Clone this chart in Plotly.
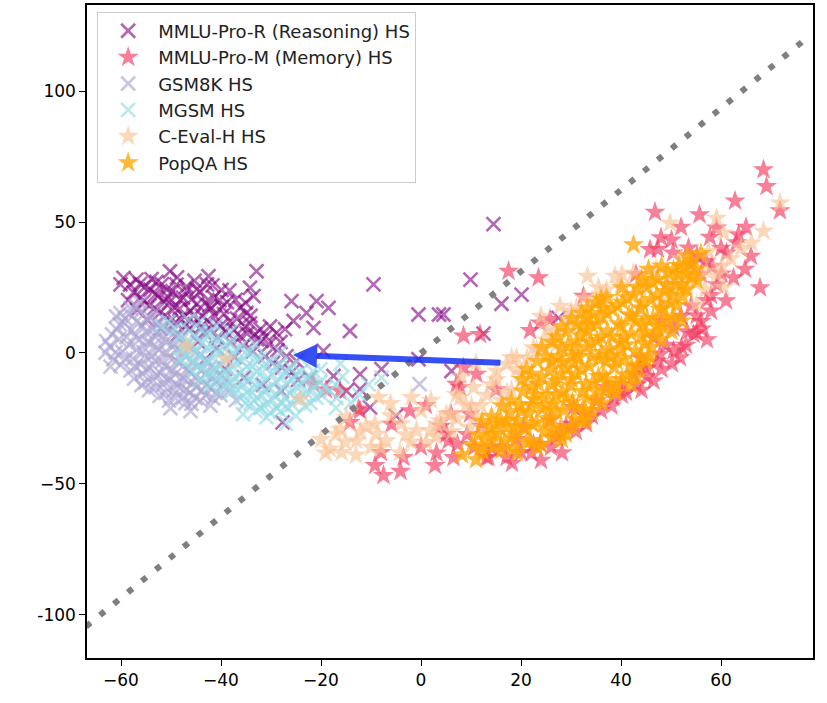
import plotly.graph_objects as go

# ---------------- data ----------------
series_names = ["MMLU-Pro-R (Reasoning) HS", "MMLU-Pro-M (Memory) HS", "GSM8K HS",
                "MGSM HS", "C-Eval-H HS", "PopQA HS"]

mmlu_r_pts = [
    (-59.5, 28.7), (-56.9, 28), (-50.2, 31.2), (-42.5, 29.3), (-32.9, 31.2), (-34.2, 24.9),
    (-33.5, 21.7), (-25.9, 19.8), (-20.9, 19.8), (-18.5, 17.2), (-22.9, 15.3), (-25.5, 12.2),
    (-21.5, 9.6), (-14.2, 8.4), (-9.5, 26.2), (-34.9, 15.3), (-28.9, 7.7), (-31.9, 4.6),
    (-19.5, 0.8), (-22.2, -9.4), (-17.5, -8.8), (-14.9, -14.5), (-27.7, -26.5), (-12.2, -8.1),
    (-10.2, -20.8), (14.5, 49.2), (9.9, 28), (16.1, 18.8), (-0.5, 14.7), (3.6, 14.7),
    (12.5, 7.4), (6.1, -6.9), (-7.9, -6.2), (-12.2, -13.8), (-5, -24), (-0.5, -2.4),
    (20.1, 22.3), (27.5, 13.4), (4.5, 14.7),
    (-57.5, 23.1), (-56.2, 26.4), (-55.4, 19.8), (-54.1, 24.2), (-53.3, 17.1), (-52.6, 21.9),
    (-51.8, 26.3), (-51.2, 14.3), (-50.4, 19.2), (-49.7, 23.6), (-49.1, 11.8), (-48.3, 16.9),
    (-47.6, 21.1), (-46.9, 25.4), (-46.2, 9.6), (-45.5, 14.2), (-44.8, 18.7), (-44.1, 23.3),
    (-43.4, 7.8), (-42.7, 12.4), (-42.1, 16.8), (-41.4, 21.2), (-40.7, 5.9), (-40.1, 10.3),
    (-39.4, 14.9), (-38.8, 19.4), (-38.1, 4.1), (-37.4, 8.7), (-36.8, 13.1), (-36.2, 17.2),
    (-35.5, 2.8), (-34.8, 7.4), (-34.2, 11.3), (-33.6, 0.6), (-32.8, 5.2), (-32.1, 9.1),
    (-31.2, -1.4), (-30.4, 3.3), (-29.6, -3.8), (-28.7, 1.1), (-27.8, -5.6), (-26.9, -1.2),
    (-25.8, -7.3), (-24.9, -3.1), (-54.7, 12.6), (-52.1, 9.4), (-48.6, 7.2), (-44.6, 4.3),
    (-40.9, 1.8), (-37.3, -1.6), (-53.9, 28.2), (-48.8, 28.9), (-45.3, 27.6), (-41.7, 25.8),
    (-38.3, 23.9), (-43.1, -2.4), (-39.2, -6.1), (-35.4, -9.3), (-31.6, -12.2), (-27.9, -14.6),
    (-24.6, -10.3), (-58.6, 20.2), (-56.8, 16.4), (-47.3, 13.8), (-43.9, 10.1), (-39.8, 17.6),
    (-50.6, 21.3), (-45.9, 20.4), (-42.3, 18.1),
    (-56.1, 21.2), (-55.2, 25.3), (-54.3, 18.1), (-53.1, 22.4), (-52.9, 27.1), (-52.2, 15.3),
    (-51.3, 19.4), (-50.8, 24.2), (-50.1, 12.3), (-49.2, 17.2), (-48.9, 26.1), (-48.1, 20.3),
    (-47.2, 10.4), (-46.8, 23.8), (-46.1, 16.2), (-45.2, 11.1), (-44.9, 24.3), (-43.8, 14.2),
    (-43.2, 19.1), (-42.8, 26.2), (-42.1, 9.1), (-41.2, 14.1), (-40.3, 20.2), (-39.9, 24.1),
    (-39.1, 8.2), (-38.2, 12.1), (-37.1, 20.3), (-36.1, 6.2), (-35.2, 10.1), (-35.1, 19.2),
    (-34.1, 14.2), (-33.2, 7.1), (-31.1, 6.3), (-30.2, 10.1), (-28.1, 4.2), (-27.2, 9.1),
    (-60.1, 26.2), (-58.2, 26.1), (-48.2, 13.1), (-44.1, 9.2),
]

mmlu_m_pts = [
    (68.5, 70), (69.1, 63.6), (62.8, 58.1), (46.8, 53.8), (55.7, 52.8), (71.8, 54.3),
    (59.1, 47.7), (63.5, 45.2), (67.8, 24.9), (45.8, 39.5), (47.4, 39.6), (50.4, 38.2),
    (53.5, 40.1), (61.1, 38.2), (64.8, 32), (62.5, 28.7), (57, 35), (56, 30), (58, 22),
    (60, 40), (66, 37), (65, 48), (52, 48), (43, 30), (48, 44), (61, 20), (54, 34),
    (17.5, 31.2), (23.5, 28.7), (8.5, 6.5), (11.8, 7.1), (23.8, 11.5), (25.8, 12.8),
    (32.5, 21.7), (21.8, 8.6),
    (55.1, 7.7), (50.5, 0.8), (46.5, -10.7), (43.8, -5.6), (50.5, 9.6), (54.5, 7.1),
    (46.5, 5.8), (47.8, -0.5), (51.8, -1.8), (42.5, -8.1), (45.1, -5.6), (52, 14), (54, 18),
    (49, 3), (44, -2), (48, 12), (53, 3), (56, 12), (58, 16),
    (38.5, -17), (32.5, -23.3), (27.8, -31), (23.8, -34.8), (17.1, -39.9), (13.1, -39.9),
    (6.5, -39.9), (37.1, -13.2), (35.1, -18.3), (30.5, -20.8), (25.8, -25.9), (27.1, -32.2),
    (20.5, -28.4), (22.5, -34.8), (16, -36), (10.7, -36), (7.3, -34.8), (40, -12), (33, -27),
    (29, -28), (19, -33), (26, -36), (13.5, -39.9), (31, -30), (36, -22), (41, -15),
    (20, -38), (24, -41),
    (7.8, -13.2), (11.1, -8.1), (5.1, -31), (7.1, -11.9), (6, -23.3), (9.8, -23.3),
    (8.5, -5.6), (5.5, -33.5), (12, -28), (4, -28), (15, -14), (1, -20),
    (-16.2, -14.5), (-12.5, -21.4), (-3.5, -39.9), (2.8, -43), (-7.5, -46.8), (-9.2, -43),
    (-2.2, -22.1), (-5.9, -27.2), (-21.5, -11.9), (-14.2, -26.5), (-12.2, -22), (0, -36),
    (-8, -38), (-19, -14),
    (40.2, -16.1), (43.1, -12.2), (45.2, -9.1), (48.1, -6.2), (50.2, -4.1), (52.1, 2.2),
    (53.2, 8.1), (56.1, 9.2), (57.2, 5.1), (55.1, 14.2), (57.1, 20.1), (59.2, 26.1),
    (60.1, 30.2), (58.2, 33.1), (38.1, -20.2), (34.2, -24.1), (30.1, -27.2), (28.2, -38.1),
    (22.1, -38.2), (18.2, -42.1), (14.1, -36.2), (9.2, -31.1), (3.1, -38.2), (-4.1, -45.2),
    (63.1, 42.1), (57.8, 44.2), (50.1, 43.2), (55.2, 37.1), (44.1, -14.2), (47.2, -3.1),
]

gsm8k_pts = [
    (-62.3, 2.5), (-61.8, 7.1), (-61.5, -2.4), (-60.2, 10.8), (-60.4, 5.3), (-59.7, 0.4),
    (-60.1, -4.6), (-59.2, 13.1), (-58.3, 14.9), (-57.9, 8.6), (-58.4, 3.1), (-57.6, -2.2),
    (-58.1, -6.7), (-57.4, -9.8), (-56.2, 15.6), (-55.8, 10.4), (-56.3, 5.2), (-55.6, 0.3),
    (-56.1, -4.4), (-55.7, -8.1), (-55.9, -12.3), (-54.1, 13.3), (-53.7, 8.9), (-54.3, 4.1),
    (-53.8, -1.2), (-54.2, -5.9), (-53.6, -10.4), (-54.4, -14.2), (-52.2, 11.4), (-51.7, 6.2),
    (-52.4, 1.1), (-51.8, -3.3), (-52.1, -7.8), (-51.6, -12.1), (-52.3, -16.4), (-50.1, 8.3),
    (-49.6, 3.4), (-50.3, -1.8), (-49.8, -6.3), (-50.2, -10.2), (-49.5, -14.4), (-50.4, -18.2),
    (-48.2, 5.1), (-47.7, 0.2), (-48.3, -4.1), (-47.8, -9.2), (-48.1, -13.3), (-47.6, -17.1),
    (-46.1, 2.3), (-45.8, -3.2), (-46.3, -7.1), (-45.7, -11.3), (-46.2, -15.2), (-45.9, -19.4),
    (-44.2, -1.1), (-43.7, -6.2), (-44.3, -10.3), (-43.8, -14.1), (-44.1, -18.2), (-42.1, -5.3),
    (-41.8, -9.4), (-42.2, -13.2), (-41.6, -17.3), (-40.2, -8.1), (-39.7, -12.4), (-40.1, -16.1),
    (-38.3, -14.2), (-63, 4.5), (-61, 14), (-57, 18), (-53, 16), (-0.3, -11.9), (-37, -18),
    (-49, 11),
    (-61.1, 0.2), (-60.9, 9.1), (-59.1, -2.2), (-58.9, 6.1), (-59.2, 11.2), (-57.1, -5.1),
    (-56.9, 1.2), (-57.2, 6.3), (-56.8, 12.1), (-55.1, -11.2), (-54.9, -6.1), (-55.2, -1.1),
    (-54.8, 4.2), (-55.1, 8.1), (-54.9, 13.2), (-53.1, -13.1), (-52.9, -8.2), (-53.2, -3.1),
    (-52.8, 2.2), (-53.1, 6.1), (-52.9, 11.2), (-51.1, -15.2), (-50.9, -10.1), (-51.2, -5.2),
    (-50.8, 0.1), (-51.1, 4.2), (-50.9, 9.1), (-49.1, -17.2), (-48.9, -12.1), (-49.2, -8.2),
    (-48.8, -3.1), (-49.1, 1.2), (-48.9, 6.1), (-47.1, -19.2), (-46.9, -14.1), (-47.2, -10.2),
    (-46.8, -6.1), (-47.1, -1.2), (-46.9, 3.1), (-45.1, -17.2), (-44.9, -13.1), (-45.2, -9.2),
    (-44.8, -5.1), (-45.1, 0.2), (-43.1, -16.2), (-42.9, -12.1), (-43.2, -8.2), (-42.8, -3.1),
    (-41.1, -15.2), (-40.9, -11.1), (-41.2, -6.2), (-39.1, -10.1), (-62.1, -5.2), (-63.1, 0.1),
    (-60.1, 15.2), (-58.1, 17.1), (-56.1, 19.2), (-50.1, -21.1), (-46.1, -22.2), (-42.1, -20.1),
]

mgsm_pts = [
    (-48.3, 6.2), (-47.7, 1.8), (-48.1, -2.4), (-46.2, 8.3), (-45.8, 3.1), (-46.4, -2.8),
    (-45.6, -7.2), (-44.1, 9.2), (-43.8, 4.1), (-44.3, -0.9), (-43.7, -5.8), (-44.2, -10.3),
    (-42.2, 7.1), (-41.7, 2.3), (-42.3, -3.2), (-41.8, -8.1), (-42.1, -12.4), (-40.1, 5.3),
    (-39.8, 0.2), (-40.3, -4.9), (-39.6, -10.1), (-40.2, -14.2), (-38.2, 3.9), (-37.7, -1.1),
    (-38.3, -6.2), (-37.8, -11.3), (-38.1, -15.1), (-36.2, 2.1), (-35.8, -3.2), (-36.3, -8.1),
    (-35.7, -12.9), (-36.1, -17.2), (-34.2, 0.3), (-33.7, -5.1), (-34.3, -10.2), (-33.8, -15.1),
    (-34.1, -19.2), (-32.2, -2.1), (-31.7, -7.3), (-32.3, -12.1), (-31.8, -16.2), (-32.1, -20.9),
    (-30.2, -3.2), (-29.8, -8.1), (-30.3, -13.2), (-29.7, -18.1), (-30.1, -22.8), (-28.2, -4.1),
    (-27.7, -9.2), (-28.3, -14.1), (-27.8, -19.2), (-28.1, -22.3), (-26.2, -5.2), (-25.8, -10.1),
    (-26.3, -15.2), (-25.7, -19.8), (-24.1, -7.2), (-23.8, -12.1), (-24.3, -17.1), (-22.2, -9.1),
    (-21.7, -14.2), (-22.1, -19.1), (-20.2, -11.2), (-19.8, -16.1),
    (-35.6, -23.4), (-32, -21), (-30.9, -24.6), (-21.6, -6.9), (-15.7, -9.1), (-18.2, -14.5),
    (-7.9, -9.4), (-12.3, -16), (-14, -19), (-17, -21), (-52, 10), (-50.5, 12), (-46.5, 12.5),
    (-41, 10.5), (-25, -24), (-10.5, -12), (-27, -27),
    (-47.1, 4.1), (-46.9, -1.2), (-45.1, 6.2), (-44.9, 1.1), (-45.2, -4.1), (-43.1, 7.2),
    (-42.9, 2.1), (-43.2, -3.2), (-42.8, -8.1), (-41.1, 5.2), (-40.9, 0.1), (-41.2, -5.2),
    (-40.8, -10.1), (-39.1, 3.2), (-38.9, -2.1), (-39.2, -7.2), (-38.8, -12.1), (-37.1, 1.2),
    (-36.9, -4.1), (-37.2, -9.2), (-36.8, -14.1), (-35.1, 0.2), (-34.9, -5.1), (-35.2, -10.2),
    (-34.8, -15.1), (-35.1, -19.2), (-33.1, -2.2), (-32.9, -7.1), (-33.2, -12.2), (-32.8, -17.1),
    (-33.1, -22.2), (-31.1, -4.1), (-30.9, -10.2), (-31.2, -14.1), (-30.8, -19.2), (-29.1, -5.2),
    (-28.9, -11.1), (-29.2, -16.2), (-28.8, -21.1), (-27.1, -7.2), (-26.9, -12.1), (-27.2, -17.2),
    (-26.8, -21.1), (-25.1, -8.2), (-24.9, -13.1), (-25.2, -17.2), (-23.1, -10.1), (-22.9, -15.2),
    (-23.2, -20.1), (-21.1, -12.2), (-20.9, -17.1), (-19.1, -13.2), (-17.1, -12.1), (-16.9, -17.2),
    (-49.1, 9.2), (-44.1, 12.1), (-38.1, 8.2), (-33.1, 3.1), (-28.1, 0.2), (-24.1, -2.1),
    (-20.1, -6.2), (-16.1, -4.1),
]

ceval_pts = [
    (-15.9, -38), (-12.9, -33.5), (-8.9, -31), (-7, -33.5), (-0.9, -29.7), (1.8, -29.7),
    (-1.9, -17), (-8.5, -17), (-6.1, -19.3), (3.8, -25.9), (5.8, -23.3), (7.8, -17),
    (10.5, -13.2), (17.1, -4.3), (18.1, -1.8), (-18.2, -36.7), (-14.9, -24.6), (-46.9, 2.7),
    (-38.9, -2.4), (-24.2, -17.6), (33.3, 29.3), (35.5, 24.9), (38.8, 29.3), (42.5, 30.6),
    (49.8, 49.6), (59.1, 51.5), (60.5, 45.8), (57.5, 38.8), (66.1, 42), (68.5, 46.5),
    (71.8, 57.3), (59.1, 29.9), (60.5, 25), (56.8, 24.2), (27.8, 17.9), (32.7, 20.8),
    (29.8, 10.9), (22.5, 2), (19.1, -1.8), (15.1, -6.9), (7.1, -15.8), (5.1, -23.3),
    (9.8, -28.4), (45.1, 27.4), (50.5, 23.6), (53.1, 24.9), (55.1, 18.5), (43.8, 17.3),
    (-11, -28), (-4, -27), (-2, -34), (3, -32), (12, -20), (14, -12), (20, -8), (25, 5),
    (26, -4), (13, -30), (11, -4), (16, -18), (24, 14), (36, 22), (40, 26), (47, 32),
    (52, 36), (62, 36), (64, 40), (48, 20), (-17, -31), (-10, -36), (-6, -24), (0, -22),
    (8, -9), (2, -18), (-13, -39), (21, -12), (27, 8), (30, 16), (9, -20), (-20, -33),
    (15.1, -10.2), (17.2, -15.1), (19.1, -6.2), (21.2, -2.1), (23.1, 1.2), (25.2, 9.1),
    (27.1, 3.2), (29.2, 13.1), (31.1, 17.2), (34.2, 20.1), (37.1, 24.2), (40.2, 30.1),
    (44.1, 24.2), (46.2, 30.1), (49.1, 26.2), (53.2, 30.1), (57.1, 31.2), (60.2, 33.1),
    (55.1, 29.2), (50.2, 28.1), (10.1, -20.2), (7.2, -25.1), (3.1, -27.2), (-3.1, -31.2),
    (-9.2, -27.1), (-12.1, -30.2), (-15.1, -34.1), (-19.1, -38.2), (-16.2, -29.1), (-8.1, -36.2),
    (-4.2, -38.1), (1.1, -34.2), (6.2, -30.1), (11.1, -24.2), (13.2, -16.1), (18.1, -14.2),
]

popqa_pts = [
    (10.2, -35), (11.5, -31.5), (12.4, -37.8), (13.1, -33), (13.8, -28.6), (14.6, -35.7),
    (15.3, -30.8), (15.9, -25.5), (16.7, -33.9), (17.2, -28.2), (17.8, -22.9), (18.4, -36.4),
    (18.9, -31), (19.3, -25.8), (19.8, -19.7), (20.4, -14.6), (20.9, -28.9), (21.5, -23.1),
    (21.9, -33.4), (22.6, -17.8), (23.1, -26.5), (23.5, -11.9), (24.2, -21.4), (24.6, -30.2),
    (25.1, -15.9), (25.7, -6.8), (26.2, -25), (26.5, -19.5), (27, -10.7), (27.4, -1.8),
    (27.9, -28.7), (28.3, -15), (28.6, -21.8), (29, -5.9), (29.4, 2.9), (29.9, -12.3),
    (30.3, -18.8), (30.7, -25.3), (31.1, -8.1), (31.5, -1.5), (31.9, 6.6), (32.3, -14.7),
    (32.8, -21.6), (33.1, 2.2), (33.6, -5), (34, 10.9), (34.4, -11.2), (34.9, -17.9),
    (35.2, 4.8), (35.7, -2.3), (36.1, 13.8), (36.5, -8.6), (36.9, -14.5), (37.3, 8.4),
    (37.8, 1.6), (38.2, 16.7), (38.6, -5.4), (39, -11.6), (39.5, 11.2), (39.9, 4.3),
    (40.3, 19.4), (40.7, -2.1), (41.2, -8.3), (41.6, 14.6), (42, 7.4), (42.5, 22.3),
    (42.9, 0.9), (43.3, -4.8), (43.8, 17.1), (44.2, 10.6), (44.7, 3.5), (45.1, 25.2),
    (45.6, -1.2), (46, 20.4), (46.4, 13.2), (46.9, 6.8), (47.3, 28.1), (47.8, 16.6),
    (48.2, 10), (48.7, 23.5), (49.3, 30.8), (49.8, 18.9), (50.4, 13.7), (51, 26.2),
    (51.6, 33.4), (52.3, 21.7), (53, 30), (54.1, 35.3), (55.2, 27.6),
    (42.5, 41.3), (40.1, 24.9), (52.8, 33.1), (50.5, 31.8), (56, 38), (8.2, -38.9),
    (11, -40.8), (45.5, 32), (36, 20.5), (24, -35), (29, -31), (33, -25.7),
    (30.5, -4), (33, -12), (35.5, -9), (38, -1), (40.5, 6), (43, 12), (27, -16), (25, -20),
    (22, -20), (19, -28), (36, 6), (39, -15), (42, -12), (45, 8), (31, 0), (28, -8),
    (34, 4), (37, -3), (40, 1), (44, -1),
    (12.1, -36.2), (14.2, -31.1), (16.1, -37.2), (17.1, -26.1), (19.2, -38.1), (20.1, -22.2),
    (21.1, -34.1), (22.2, -27.1), (23.1, -16.2), (23.2, -36.1), (24.1, -9.2), (25.2, -25.1),
    (26.1, -32.2), (26.2, -12.1), (27.1, -22.2), (28.1, -3.1), (28.2, -33.1), (29.1, -17.2),
    (30.1, -10.1), (30.2, -28.1), (31.1, 4.2), (31.2, -21.1), (32.1, -6.2), (32.2, -26.1),
    (33.1, -17.2), (33.2, 8.1), (34.1, -1.2), (34.2, -22.1), (35.1, -14.2), (35.2, 11.1),
    (36.1, 0.2), (36.2, -19.1), (37.1, -10.2), (37.2, 15.1), (38.1, 6.2), (38.2, -14.1),
    (39.1, -3.2), (39.2, 18.1), (40.1, 10.2), (40.2, -10.1), (41.1, 3.2), (41.2, 21.1),
    (42.1, -5.2), (42.2, 14.1), (43.1, -9.2), (43.2, 25.1), (44.1, 6.2), (44.2, 19.1),
    (45.1, -3.2), (45.2, 13.1), (46.1, 2.2), (46.2, 27.1), (47.1, 10.2), (47.2, 22.1),
    (48.1, 5.2), (48.2, 17.1), (49.1, 26.2), (49.2, 13.1), (50.1, 8.2), (50.2, 22.1),
    (51.1, 18.2), (51.2, 30.1), (52.1, 12.2), (52.2, 26.1), (53.1, 24.2), (54.1, 29.1),
    (55.1, 32.2), (53.2, 37.1), (48.1, 33.2), (44.1, 28.1), (26.1, -29.2), (18.1, -32.1),
    (15.2, -27.1),
    (20.2, -10.1), (21.1, -6.2), (22.1, -8.1), (23.2, -3.1), (24.1, 2.1), (25.1, -1.2),
    (26.2, 4.1), (27.1, 6.2), (28.1, 10.1), (29.2, 8.1), (30.1, 13.2), (31.2, 11.1),
    (32.1, 15.2), (33.2, 17.1), (34.1, 15.1), (35.1, 19.2), (36.2, 17.1), (37.1, 21.2),
    (30.2, -1.1), (26.1, -3.2), (22.2, -13.1), (18.1, -18.2), (16.2, -20.1), (14.1, -24.2),
    (12.2, -26.1), (33.1, 13.2), (28.2, 2.1), (32.2, 10.1),
]

diag_x = [-67, 77]
diag_y = [-104.5, 120]

arrow_tail = (16.2, -3.8)
arrow_tip = (-25.6, -0.8)

x_ticks = [-60, -40, -20, 0, 20, 40, 60]
x_ticktext = ["\u221260", "\u221240", "\u221220", "0", "20", "40", "60"]
y_ticks = [-100, -50, 0, 50, 100]
y_ticktext = ["-100", "\u221250", "0", "50", "100"]

# ---------------- figure ----------------
styles = [
    ("x", "rgba(128,0,128,0.6)", mmlu_r_pts),
    ("star", "rgba(242,58,95,0.65)", mmlu_m_pts),
    ("x", "rgba(172,165,210,0.65)", gsm8k_pts),
    ("x", "rgba(150,220,230,0.65)", mgsm_pts),
    ("star", "rgba(250,195,150,0.65)", ceval_pts),
    ("star", "rgba(255,165,0,0.78)", popqa_pts),
]

fig = go.Figure()
for name, (kind, color, pts) in zip(series_names, styles):
    xs = [p[0] for p in pts]
    ys = [p[1] for p in pts]
    if kind == "x":
        marker = dict(symbol="x-thin", size=14, color=color, line=dict(color=color, width=2.6))
    else:
        marker = dict(symbol="star", size=16, color=color, line=dict(width=0))
    fig.add_trace(go.Scatter(x=xs, y=ys, mode="markers", name=name, marker=marker))

fig.add_trace(go.Scatter(x=diag_x, y=diag_y, mode="lines", showlegend=False,
                         line=dict(color="#7f7f7f", width=6, dash="6px,12px")))

fig.add_annotation(x=arrow_tip[0], y=arrow_tip[1], ax=arrow_tail[0], ay=arrow_tail[1],
                   xref="x", yref="y", axref="x", ayref="y", text="", showarrow=True,
                   arrowhead=2, arrowsize=0.8, arrowwidth=6,
                   arrowcolor="rgba(20,50,245,0.85)", standoff=0)

axis_common = dict(showline=True, linecolor="black", linewidth=1.5, mirror=True,
                   ticks="outside", ticklen=6, tickwidth=1.3, tickcolor="black",
                   showgrid=False, zeroline=False,
                   tickfont=dict(family="DejaVu Sans", size=17, color="black"))

fig.update_layout(
    width=827, height=703,
    margin=dict(l=87, r=14, t=3, b=45),
    plot_bgcolor="white", paper_bgcolor="white",
    xaxis=dict(range=[-66.8, 78.4], tickvals=x_ticks, ticktext=x_ticktext, **axis_common),
    yaxis=dict(range=[-116.5, 132.9], tickvals=y_ticks, ticktext=y_ticktext, **axis_common),
    legend=dict(x=0.014, y=0.99, xanchor="left", yanchor="top",
                bgcolor="rgba(255,255,255,0.85)", bordercolor="#cccccc", borderwidth=1,
                font=dict(family="DejaVu Sans", size=18, color="#222"),
                itemwidth=50, tracegroupgap=0),
)

fig.write_html("out.html")
